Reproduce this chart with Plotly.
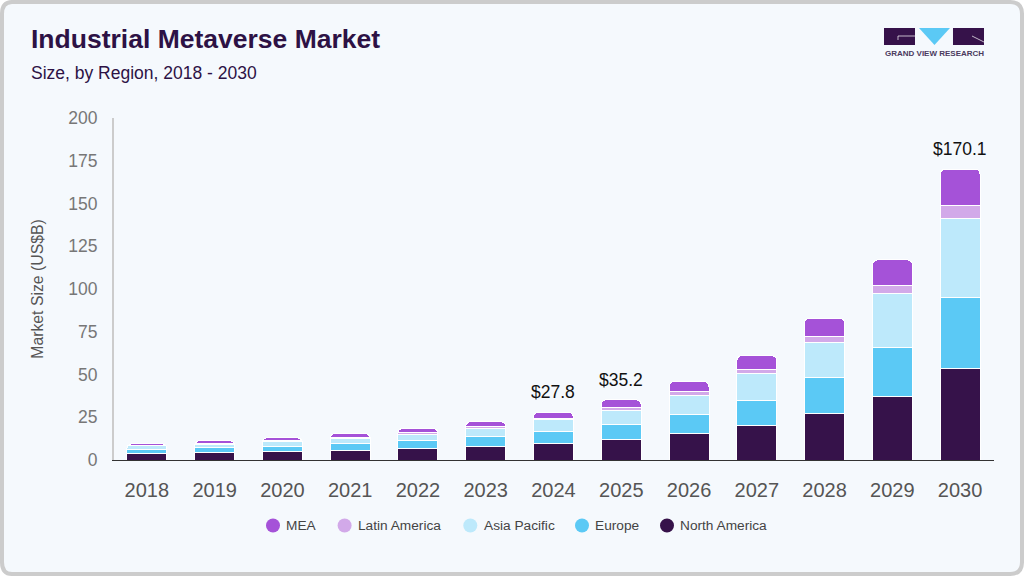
import plotly.graph_objects as go

W = 1024
H = 576

years = ["2018", "2019", "2020", "2021", "2022", "2023", "2024", "2025", "2026", "2027", "2028", "2029", "2030"]
north_america = [3.7, 4.3, 4.9, 5.4, 6.6, 7.8, 9.5, 12.2, 15.4, 20, 27, 37, 53.8]
europe = [2.3, 2.9, 2.9, 4.3, 4.7, 5.8, 7.1, 8.5, 11.1, 15, 21, 29, 41.5]
asia_pacific = [2.4, 1.8, 2.9, 2.8, 3.5, 4.9, 7.2, 8.2, 11.5, 15.3, 21, 31.6, 46.2]
latin_america = [0.2, 0.8, 0.8, 0.4, 1.0, 1.0, 0.7, 1.7, 1.8, 2.9, 3.4, 4.4, 7.5]
mea = [0.9, 1.5, 1.5, 2.5, 2.6, 2.9, 3.3, 4.6, 6.0, 7.8, 10.6, 15, 21.1]
labelled_years = ["2024", "2025", "2030"]
y_ticks = [0, 25, 50, 75, 100, 125, 150, 175, 200]

DARK = "#36124A"
BLUE = "#5BC9F5"
PALE = "#BDE9FB"
LILAC = "#D2A9E9"
PURPLE = "#A552D8"
CARD = "#F5F9FD"
FONT = "Liberation Sans"

# bottom of the stack first
series = [("North America", north_america, DARK), ("Europe", europe, BLUE),
          ("Asia Pacific", asia_pacific, PALE), ("Latin America", latin_america, LILAC),
          ("MEA", mea, PURPLE)]

# legend dots and text starts, screen pixels, same order as series
legend_dot_x = [667, 582, 470.3, 344.6, 273]
legend_text_x = [680, 595, 483.5, 358, 286]
LEGEND_Y = 525.5


def px(x):
    return x / W


def py(y):
    return 1 - y / H


def path(points):
    # closed polygon, points given in screen pixels
    s = "M" + " L".join(f"{px(a):.5f},{py(b):.5f}" for a, b in points)
    return s + " Z"


fig = go.Figure()

for name, vals, col in series:
    fig.add_trace(go.Bar(x=years, y=vals, name=name, showlegend=False,
                         marker=dict(color=col, line=dict(color="#FFFFFF", width=1))))

annotations = []
for yr in labelled_years:
    i = years.index(yr)
    total = sum(s[1][i] for s in series)
    # category axis: annotation x has to be the position, "2024" would be read as 2024
    annotations.append(dict(x=i, y=total, xref="x", yref="y", text=f"${total:.1f}", showarrow=False,
                            yanchor="bottom", yshift=8, font=dict(family=FONT, size=17.5, color="#111111")))

annotations += [
    dict(x=px(29), y=py(39), xref="paper", yref="paper", text="<b>Industrial Metaverse Market</b>",
         showarrow=False, xanchor="left", yanchor="middle", font=dict(family=FONT, size=26.5, color="#2D1245")),
    dict(x=px(29), y=py(73), xref="paper", yref="paper", text="Size, by Region, 2018 - 2030",
         showarrow=False, xanchor="left", yanchor="middle", font=dict(family=FONT, size=17.5, color="#2D1245")),
    dict(x=px(934), y=py(53.5), xref="paper", yref="paper", text="<b>GRAND VIEW RESEARCH</b>",
         showarrow=False, xanchor="center", yanchor="middle", font=dict(family=FONT, size=8, color="#4A3A5E")),
]

shapes = [
    # card
    dict(type="path", xref="paper", yref="paper", layer="below", fillcolor=CARD,
         line=dict(color="#CCCCCC", width=4),
         path=(f"M{px(12):.5f},{py(2):.5f} L{px(1010):.5f},{py(2):.5f} "
               f"Q{px(1022):.5f},{py(2):.5f} {px(1022):.5f},{py(14):.5f} "
               f"L{px(1022):.5f},{py(562):.5f} Q{px(1022):.5f},{py(574):.5f} {px(1010):.5f},{py(574):.5f} "
               f"L{px(12):.5f},{py(574):.5f} Q{px(2):.5f},{py(574):.5f} {px(2):.5f},{py(562):.5f} "
               f"L{px(2):.5f},{py(14):.5f} Q{px(2):.5f},{py(2):.5f} {px(12):.5f},{py(2):.5f} Z")),
    # logo
    dict(type="path", xref="paper", yref="paper", fillcolor=DARK, line=dict(width=0),
         path=path([(884, 28), (915, 28), (915, 45), (884, 45)])),
    dict(type="path", xref="paper", yref="paper", fillcolor=BLUE, line=dict(width=0),
         path=path([(919, 28), (950, 28), (934.5, 45)])),
    dict(type="path", xref="paper", yref="paper", fillcolor=DARK, line=dict(width=0),
         path=path([(953, 28), (984, 28), (984, 45), (953, 45)])),
    dict(type="path", xref="paper", yref="paper", fillcolor="rgba(0,0,0,0)", line=dict(color="#FFFFFF", width=0.7),
         path=f"M{px(898):.5f},{py(40):.5f} L{px(898):.5f},{py(36):.5f} L{px(915):.5f},{py(36):.5f}"),
    dict(type="path", xref="paper", yref="paper", fillcolor="rgba(0,0,0,0)", line=dict(color="#FFFFFF", width=0.7),
         path=f"M{px(972):.5f},{py(36):.5f} L{px(984):.5f},{py(42):.5f}"),
]

# legend by hand: the reference has round dots and a tighter gap than the built in one allows
for (name, vals, col), dot_x, text_x in zip(series, legend_dot_x, legend_text_x):
    shapes.append(dict(type="circle", xref="paper", yref="paper", fillcolor=col, line=dict(width=0),
                       x0=px(dot_x - 7), x1=px(dot_x + 7), y0=py(LEGEND_Y + 7), y1=py(LEGEND_Y - 7)))
    annotations.append(dict(x=px(text_x), y=py(LEGEND_Y), xref="paper", yref="paper", text=name, showarrow=False,
                            xanchor="left", yanchor="middle", xshift=-2,
                            font=dict(family=FONT, size=13.7, color="#444444")))

fig.update_layout(
    width=W, height=H,
    margin=dict(l=0, r=0, t=0, b=0, autoexpand=False),
    paper_bgcolor="#FFFFFF", plot_bgcolor="rgba(0,0,0,0)",
    barmode="stack", bargap=0.41, barcornerradius=5, showlegend=False,
    font=dict(family=FONT),
    annotations=annotations, shapes=shapes,
    xaxis=dict(domain=[px(114), px(994)], type="category", categoryorder="array", categoryarray=years,
               range=[-0.485, 12.5], showgrid=False, showline=True, linecolor="#333333",
               linewidth=1, ticks="", tickfont=dict(family=FONT, size=20, color="#555555"), ticklabelstandoff=12),
    yaxis=dict(domain=[py(460), py(118)], range=[0, 200], tickvals=y_ticks, showgrid=False, zeroline=False,
               showline=True, linecolor="#CCCCCC", linewidth=2, ticks="", ticklabelstandoff=11,
               tickfont=dict(family=FONT, size=17.5, color="#777777"),
               title=dict(text="Market Size (US$B)", standoff=21, font=dict(family=FONT, size=15.8, color="#555555"))),
)

fig.write_html("out.html", config=dict(displayModeBar=False), post_script="document.body.style.margin='0';")
